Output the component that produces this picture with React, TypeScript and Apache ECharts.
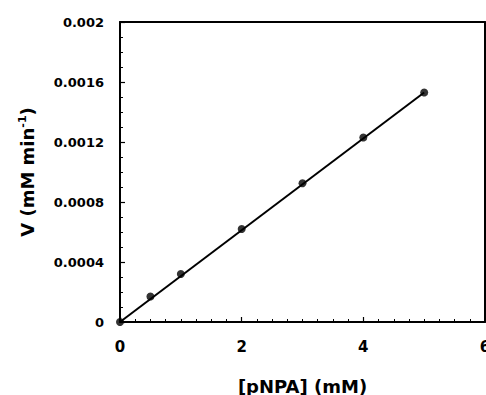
import React, { useEffect, useRef } from "react";
import * as echarts from "echarts";

const concentrations = [0, 0.5, 1, 2, 3, 4, 5];
const velocities = [0, 0.00017, 0.00032, 0.00062, 0.000925, 0.00123, 0.00153];
const fitX = [0, 5];
const fitY = [0, 0.00153];
const xTicks = [0, 2, 4, 6];
const yTicks = [0, 0.0004, 0.0008, 0.0012, 0.0016, 0.002];

const FONT = "DejaVu Sans";

export default function App() {
  const ref = useRef<HTMLDivElement>(null);
  useEffect(() => {
    if (!ref.current) return;
    const chart = echarts.init(ref.current, null, { renderer: "svg" });
    const xMin = xTicks[0];
    const xMax = xTicks[xTicks.length - 1];
    const yMin = yTicks[0];
    const yMax = yTicks[yTicks.length - 1];
    const frameAxis = {
      type: "value",
      axisLine: { show: true, onZero: false, lineStyle: { color: "#000", width: 2 } },
      axisTick: { show: false },
      minorTick: { show: false },
      axisLabel: { show: false },
      splitLine: { show: false },
    };
    chart.setOption({
      animation: false,
      backgroundColor: "#fff",
      grid: {
        left: 120,
        top: 22,
        right: 1,
        bottom: 73,
        outerBoundsMode: "none",
        containLabel: false,
      },
      xAxis: [
        {
          type: "value",
          min: xMin,
          max: xMax,
          interval: xTicks[1] - xTicks[0],
          name: "[pNPA] (mM)",
          nameLocation: "middle",
          nameGap: 55,
          nameTextStyle: { fontFamily: FONT, fontWeight: "bold", fontSize: 18, color: "#000" },
          axisLine: { show: true, onZero: false, lineStyle: { color: "#000", width: 2 } },
          axisTick: { show: true, inside: true, length: 5, lineStyle: { color: "#000", width: 1.2 } },
          minorTick: { show: true, splitNumber: 8, length: 3, lineStyle: { color: "#000", width: 1 } },
          splitLine: { show: false },
          axisLabel: {
            margin: 17,
            fontFamily: FONT,
            fontWeight: "bold",
            fontSize: 15,
            color: "#000",
            showMaxLabel: true,
          },
        },
        { ...frameAxis, position: "top", min: xMin, max: xMax },
      ],
      yAxis: [
        {
          type: "value",
          min: yMin,
          max: yMax,
          interval: yTicks[1] - yTicks[0],
          name: "V (mM min{sup|-1})",
          nameLocation: "middle",
          nameGap: 83,
          nameTextStyle: {
            fontFamily: FONT,
            fontWeight: "bold",
            fontSize: 18,
            color: "#000",
            rich: {
              sup: { fontFamily: FONT, fontWeight: "bold", fontSize: 11, color: "#000", padding: [0, 0, 9, 0] },
            },
          },
          axisLine: { show: true, onZero: false, lineStyle: { color: "#000", width: 2 } },
          axisTick: { show: true, inside: true, length: 5, lineStyle: { color: "#000", width: 1.2 } },
          minorTick: { show: true, splitNumber: 4, length: 3, lineStyle: { color: "#000", width: 1 } },
          splitLine: { show: false },
          axisLabel: {
            margin: 16,
            fontFamily: FONT,
            fontWeight: "bold",
            fontSize: 13,
            color: "#000",
            formatter: (v: number) => String(parseFloat(v.toFixed(4))),
          },
        },
        { ...frameAxis, position: "right", min: yMin, max: yMax },
      ],
      series: [
        {
          type: "line",
          data: fitX.map((x, i) => [x, fitY[i]]),
          showSymbol: false,
          symbol: "none",
          lineStyle: { color: "#000", width: 2 },
          silent: true,
          z: 2,
        },
        {
          type: "scatter",
          data: concentrations.map((x, i) => [x, velocities[i]]),
          symbol: "circle",
          symbolSize: 8,
          itemStyle: { color: "#000" },
          clip: false,
          z: 3,
        },
      ],
    });
    return () => chart.dispose();
  }, []);
  return (
    <div
      ref={ref}
      style={{ position: "fixed", left: 0, top: 0, width: 486, height: 395, background: "#fff" }}
    />
  );
}
